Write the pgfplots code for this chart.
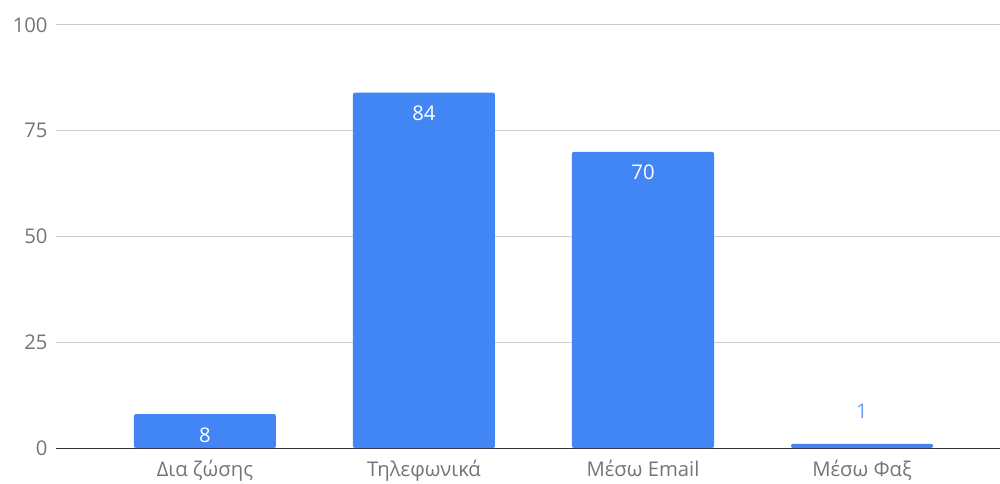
\documentclass[border=0pt]{standalone}
\usepackage{fontspec}
\setmainfont{Open Sans}
\usepackage{pgfplots}
\pgfplotsset{compat=1.18}
\definecolor{gbar}{HTML}{4285F4}
\definecolor{glabel}{HTML}{757575}
\definecolor{ggrid}{HTML}{CCCCCC}
\definecolor{gzero}{HTML}{333333}

\begin{document}
\begin{tikzpicture}
\useasboundingbox (0,0) rectangle (300mm,144.9mm);
\begin{axis}[
  at={(16.8mm,10.5mm)}, anchor=south west,
  scale only axis,
  width=283.2mm, height=126.9mm,
  ybar, bar width=42.6mm, bar shift=0pt,
  xmin=-0.680, xmax=3.630,
  ymin=0, ymax=100,
  xtick={0,1,2,3},
  xticklabels={Δια ζώσης, Τηλεφωνικά, Μέσω Email, Μέσω Φαξ},
  ytick={25,50,75,100},
  extra y ticks={0},
  extra y tick style={grid style={draw=gzero, line width=0.3mm}},
  ymajorgrids,
  grid style={draw=ggrid, line width=0.3mm},
  axis line style={draw=none},
  major tick length=0pt,
  tick label style={font=\fontsize{17.3}{20}\selectfont, text=glabel},
  /pgf/number format/assume math mode=true,
  yticklabel style={anchor=east, xshift=-1.3mm},
  xticklabel style={anchor=base, yshift=-8.4mm},
  clip=false,
]
\addplot[fill=gbar, draw=none, rounded corners=0.6mm,
  nodes near coords,
  every node near coord/.append style={font=\fontsize{17.3}{20}\selectfont, text=white, anchor=center, yshift=-6.2mm}]
  coordinates {(0,8) (1,84) (2,70)};
\addplot[fill=gbar, draw=none, rounded corners=0.6mm,
  nodes near coords,
  every node near coord/.append style={font=\fontsize{17.3}{20}\selectfont, text=gbar!80!white, anchor=center, yshift=9.9mm}]
  coordinates {(3,1)};
\end{axis}
\end{tikzpicture}
\end{document}
